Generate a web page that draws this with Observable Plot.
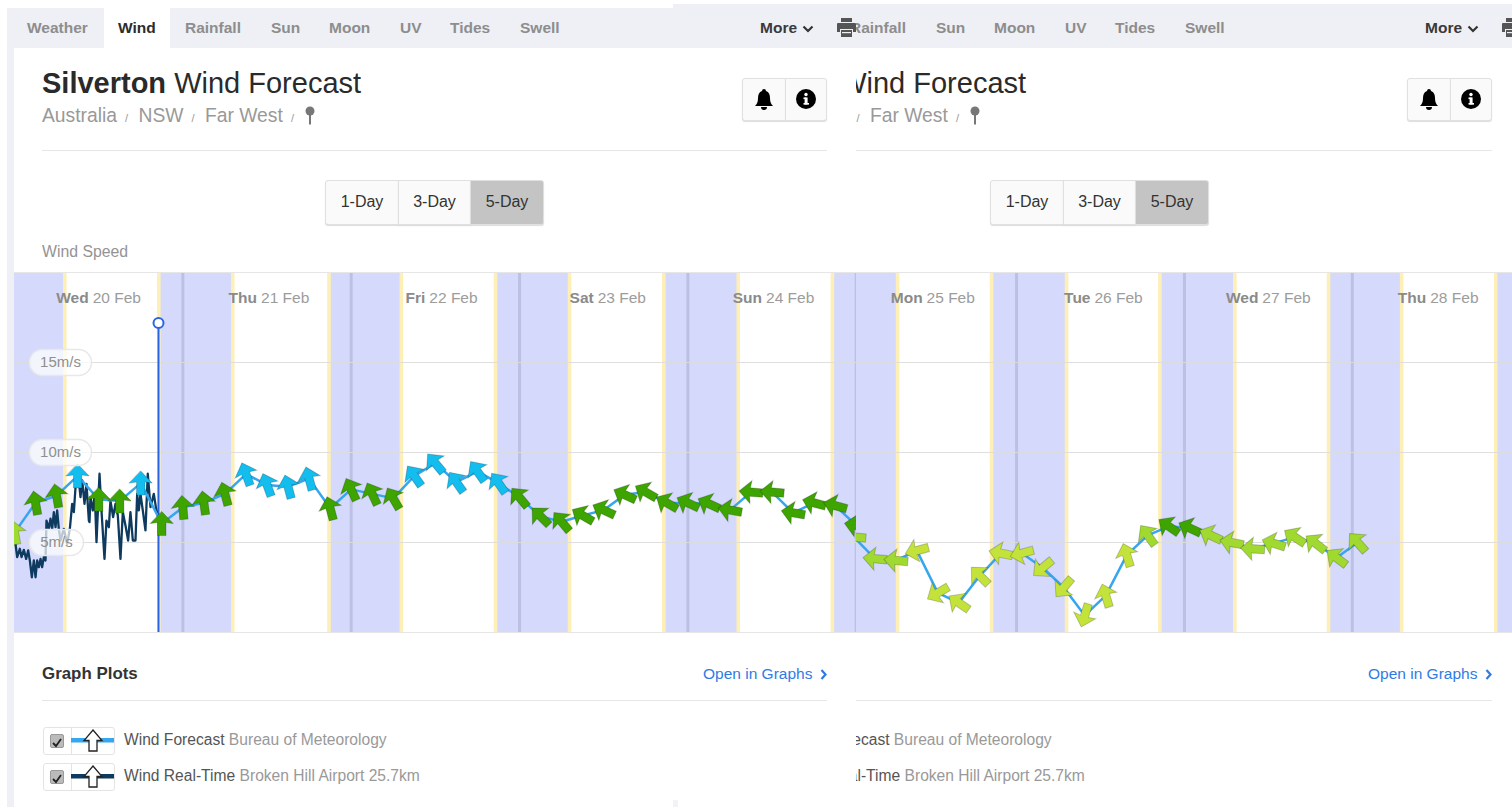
<!DOCTYPE html>
<html>
<head>
<meta charset="utf-8">
<script src="https://cdn.jsdelivr.net/npm/d3@7"></script>
<script src="https://cdn.jsdelivr.net/npm/@observablehq/plot@0.6"></script>
<style>
html,body{margin:0;padding:0;background:#fff;overflow:hidden;width:1512px;height:807px;font-family:"Liberation Sans",Arial,sans-serif}
.abs{position:absolute}
.tab{position:absolute;top:19px;font:700 15.5px/18px "Liberation Sans",sans-serif;color:#8d8d8d;white-space:nowrap}
.btn{position:absolute;box-sizing:border-box;background:#fafafa;border:1px solid #e0e0e0;box-shadow:0 1px 1px #ddd;font:16px/42px "Liberation Sans",sans-serif;color:#333;text-align:center;white-space:nowrap}
.rule{position:absolute;height:1px;background:#e6e6e6}
.chart{position:absolute;top:271px;height:362px;overflow:hidden}
.chart svg{display:block;background:transparent}
.panel{position:absolute;top:0;height:807px;overflow:hidden}
.leg{position:absolute;left:124px;font:15.6px/18px "Liberation Sans",sans-serif;color:#999;white-space:nowrap}
.leg b{font-weight:400;color:#555}
.sl{font-size:11px;margin:0 5px}
</style>
</head>
<body>
<div id="page"></div>
<script>
// ---------- data (hours counted from Wed 20 Feb 00:00) ----------
const dayNames  = ["Wed","Thu","Fri","Sat","Sun","Mon","Tue","Wed","Thu"];
const dayDates  = ["20 Feb","21 Feb","22 Feb","23 Feb","24 Feb","25 Feb","26 Feb","27 Feb","28 Feb"];
const dayNoons  = [12,36,60,84,108,132,156,180,204];
const midnights = [24,48,72,96,120,144,168,192];
const dawns = [7.17,31.12,55.15,79.13,103.18,127,151.15,175.2,199.05];
const dusks = [20.57,44.84,68.58,92.57,116.6,140.43,164.5,188.6,212.5];
const nightStarts = [-2,20.57,44.84,68.58,92.57,116.6,140.43,164.5,188.6,212.5];
const nightEnds   = [7.17,31.12,55.15,79.13,103.18,127,151.15,175.2,199.05,222];
const speedTicks = [5,10,15];
const cursorHour = 20.53, cursorTop = 17.2;

const leftHours = [0,3,6,9,12,15,18,21,24,27,30,33,36,39,42,45,48,51,54,57,60,63,66,69,72,75,78,81,84,87,90,93,96,99,102,105,108,111,114,117,120];
const leftSpeed = [5.55,7.2,7.6,8.7,7.4,7.3,8.3,6.05,6.95,7.2,7.7,8.8,8.2,8.1,8.55,6.9,7.95,7.7,7.45,8.7,9.4,8.35,8.95,8.3,7.5,6.45,6.15,6.5,6.8,7.65,7.8,7.2,7.2,7.15,6.8,7.8,7.8,6.65,7.2,7.05,5.95];
const leftRotate = [-10,-10,-10,0,0,0,0,0,-5,-8,-15,-20,-20,-15,-15,-15,-25,-25,-30,-35,-40,-35,-35,-35,-40,-45,-40,-60,-65,-65,-60,-60,-65,-65,-80,-85,-85,-80,-75,-75,-80];
const leftTier = ["light","fresh","fresh","strong","fresh","fresh","strong","fresh","fresh","fresh","fresh","strong","strong","strong","strong","fresh","fresh","fresh","fresh","strong","strong","strong","strong","strong","fresh","fresh","fresh","fresh","fresh","fresh","fresh","fresh","fresh","fresh","fresh","fresh","fresh","fresh","fresh","fresh","fresh"];

const rightHours = [120.75,123.75,126.75,129.75,132.75,135.75,138.75,141.75,144.75,147.75,150.75,153.75,156.75,159.75,162.75,165.75,168.75,171.75,174.75,177.75,180.75,183.75,186.75,189.75,192.75];
const rightSpeed = [5.3,4.1,4.0,4.55,2.2,1.65,3.15,4.4,4.4,3.6,2.5,0.95,2.05,4.3,5.4,5.9,5.8,5.4,5.0,4.65,4.95,5.3,4.95,4.15,5.0];
const rightRotate = [-85,-85,-85,-105,-120,-55,-45,-79,-105,-130,-140,-163,-17,-17,-36,-55,-65,-65,-79,-86,-73,-57,-52,-53,-42];
const rightTier = ["light","light","light","soft","soft","soft","soft","soft","soft","soft","soft","soft","soft","soft","light","fresh","fresh","light","light","light","light","light","light","light","light"];

const realHours = [0.14,0.38,0.76,1.0,1.33,1.66,1.95,2.19,2.47,2.76,3.0,3.23,3.47,3.71,3.94,4.18,4.42,4.56,4.89,5.13,5.37,5.61,5.85,6.08,6.32,6.56,7.03,7.51,7.89,8.22,8.46,8.7,9.17,9.41,9.65,9.98,10.26,10.6,10.69,10.83,11.17,11.45,11.69,12.12,12.4,12.83,13.11,13.45,13.68,14.06,14.4,14.73,15.11,15.44,15.82,16.2,16.53,16.87,17.25,17.49,17.72,17.96,18.29,18.67,19.0,19.39,19.86,20.19,20.48];
const realSpeed = [4.93,4.19,4.65,4.19,4.59,4.09,4.56,4.0,3.07,4.0,3.07,4.0,3.63,4.09,3.63,4.19,4.0,6.22,5.76,6.32,5.76,6.69,5.85,6.78,5.76,5.11,5.76,4.93,5.76,7.15,6.69,8.07,8.45,7.52,8.45,7.15,8.26,6.22,6.13,7.52,6.78,7.7,5.02,8.82,6.78,4.09,6.22,5.85,7.33,6.41,7.15,6.5,4.09,6.69,5.95,5.11,6.69,5.11,5.11,7.7,6.78,7.7,6.78,5.67,8.82,6.96,7.7,6.87,6.41];

const tierNames  = ["strong","fresh","light","soft"];
const tierColors = ["#13bdee","#3ea400","#a0d92f","#c3e33b"];

// ---------- helpers ----------
const t0 = Date.UTC(2019,1,20);
const at = h => new Date(t0 + h*3600e3);

const arrowShape = {
  draw(c, l) {
    c.moveTo(0,-l);
    c.lineTo(11.5,-l+12);
    c.lineTo(4.2,-l+11);
    c.lineTo(4.2,0);
    c.lineTo(-4.2,0);
    c.lineTo(-4.2,-l+11);
    c.lineTo(-11.5,-l+12);
    c.closePath();
  }
};
const pill = w => ({
  draw(c) {
    const h=13, r=13, a=w/2;
    c.moveTo(-a+r,-h);
    c.lineTo(a-r,-h);
    c.arc(a-r,0,r,-Math.PI/2,Math.PI/2);
    c.lineTo(-a+r,h);
    c.arc(-a+r,0,r,Math.PI/2,Math.PI*1.5);
    c.closePath();
  }
});

function panelChart(left, width, hourStart, hourEnd, hours, speeds, rots, tiers, withLeftStuff) {
  const fc = hours.map((h,i)=>({t:at(h),s:speeds[i],r:rots[i],k:tiers[i]}));
  const nights = nightStarts.map((s,i)=>({a:at(s),b:at(nightEnds[i])}));
  const days = dayNoons.map((h,i)=>({t:at(h),n:dayNames[i],d:dayDates[i]}));
  const real = realHours.map((h,i)=>({t:at(h),s:realSpeed[i]}));
  const marks = [
    Plot.rect(nights,{x1:"a",x2:"b",fill:"#d5d9fb"}),
    Plot.ruleX(midnights.map(at),{stroke:"#bcc0e2",strokeWidth:3}),
    Plot.ruleX(dawns.concat(dusks).map(at),{stroke:"#fdefb6",strokeWidth:3.6}),
    Plot.ruleY(speedTicks,{stroke:"#dcdcdc",strokeOpacity:0.9}),
    Plot.ruleY([0,20],{stroke:"#e6e6e6"})
  ];
  if (withLeftStuff) {
    marks.push(Plot.ruleX([at(cursorHour)],{y1:0,y2:cursorTop,stroke:"#2b64e3",strokeWidth:2}));
    marks.push(Plot.line(real,{x:"t",y:"s",stroke:"#0d3a5e",strokeWidth:2.3,curve:"linear"}));
  }
  marks.push(Plot.line(fc,{x:"t",y:"s",stroke:"#36a6ee",strokeWidth:2.5,curve:"linear"}));
  marks.push(Plot.vector(fc,{x:"t",y:"s",rotate:"r",length:24,anchor:"middle",shape:arrowShape,fill:"k",stroke:"#000",strokeOpacity:0.2,strokeWidth:1,strokeLinejoin:"miter"}));
  if (withLeftStuff) {
    const big = speedTicks.filter(d=>d>=10), small = speedTicks.filter(d=>d<10);
    marks.push(Plot.dot([at(cursorHour)],{x:d=>d,y:()=>cursorTop,r:5,fill:"#fff",stroke:"#2b64e3",strokeWidth:2}));
    marks.push(Plot.dot(big,{y:d=>d,frameAnchor:"left",dx:46,symbol:pill(62),r:5,fill:"#fff",fillOpacity:0.72,stroke:"#e8e8e8"}));
    marks.push(Plot.dot(small,{y:d=>d,frameAnchor:"left",dx:42,symbol:pill(54),r:5,fill:"#fff",fillOpacity:0.72,stroke:"#e8e8e8"}));
    marks.push(Plot.text(big,{y:d=>d,frameAnchor:"left",textAnchor:"middle",dx:46,text:d=>d+"m/s",fill:"#8f8f8f",fontSize:15,fontFamily:"Liberation Sans"}));
    marks.push(Plot.text(small,{y:d=>d,frameAnchor:"left",textAnchor:"middle",dx:42,text:d=>d+"m/s",fill:"#8f8f8f",fontSize:15,fontFamily:"Liberation Sans"}));
  }
  const inDomain = days.filter(d=>d.t>=at(hourStart) && d.t<=at(hourEnd));
  marks.push(Plot.text(inDomain,{x:"t",text:"n",frameAnchor:"top",dy:19,dx:-10,textAnchor:"end",fill:"#8a8a8a",fontWeight:700,fontSize:15.5,fontFamily:"Liberation Sans"}));
  marks.push(Plot.text(inDomain,{x:"t",text:"d",frameAnchor:"top",dy:19,dx:-6,textAnchor:"start",fill:"#9c9c9c",fontSize:15.5,fontFamily:"Liberation Sans"}));
  const svg = Plot.plot({
    width, height:362, marginTop:1, marginBottom:1, marginLeft:0, marginRight:0,
    style:{background:"transparent",overflow:"hidden"},
    x:{type:"utc",domain:[at(hourStart),at(hourEnd)],axis:null},
    y:{domain:[0,20],axis:null},
    color:{type:"ordinal",domain:tierNames,range:tierColors},
    marks
  });
  const div = document.createElement("div");
  div.className="chart";
  div.style.left=left+"px"; div.style.width=width+"px";
  div.appendChild(svg);
  return div;
}

const printer = x => `<svg class="abs" style="left:${x}px;top:18px" width="19" height="20" viewBox="0 0 19 20"><path fill="#555" d="M4 0h11v4H4zM1 5h17a1 1 0 0 1 1 1v8h-3v-3H3v3H0V6a1 1 0 0 1 1-1zM4 12h11v7H4z"/><rect x="5" y="14" width="9" height="1.2" fill="#eff0f5"/></svg>`;
const arrowIcon = (x,y,color) => `<svg class="abs" style="left:${x}px;top:${y}px" width="44" height="28" viewBox="0 0 44 28"><rect x="0" y="11" width="43" height="4.5" fill="${color}"/><path d="M22 3l9 10.5h-5v10.5h-8V13.5h-5z" fill="#fff" stroke="#222" stroke-width="1.3"/></svg>`;
const check = (x,y) => `<div class="abs" style="left:${x}px;top:${y}px;width:14px;height:14px;background:#bbb;border:1px solid #999;border-radius:2px;box-sizing:border-box"><svg width="12" height="12" viewBox="0 0 12 12"><path d="M2 6l3 3 5-7" fill="none" stroke="#222" stroke-width="1.8"/></svg></div>`;

// isRight: the second screenshot of the stitched page starts part-way across, so what it hides is not written at all
function content(isRight) {
  const tabs=[["Weather",27],["Wind",118],["Rainfall",185],["Sun",271],["Moon",329],["UV",400],["Tides",450],["Swell",520]]
    .filter(([t])=>!isRight || !["Weather","Wind"].includes(t));
  return `
  ${isRight ? "" : `<div class="abs" style="left:7px;top:8px;width:828px;height:40px;background:#eff0f5"></div>
  <div class="abs" style="left:104px;top:8px;width:66px;height:40px;background:#fff"></div>`}
  ${tabs.map(([t,x])=>`<div class="tab" style="left:${x}px;${t==="Wind"?"color:#2c2c2c":""}">${t}</div>`).join("")}
  <div class="tab" style="left:760px;color:#3a3a3a">More</div>
  <svg class="abs" style="left:802px;top:25px" width="12" height="8" viewBox="0 0 12 8"><path d="M1.5 1.5L6 6l4.5-4.5" fill="none" stroke="#333" stroke-width="2.2"/></svg>
  ${printer(837)}
  <div class="abs" style="left:42px;top:66px;font:29px/34px 'Liberation Sans',sans-serif;color:#2a2a2a;white-space:nowrap"><b>Silverton</b> Wind Forecast</div>
  <div class="abs" style="left:42px;top:104px;font:19.3px/24px 'Liberation Sans',sans-serif;color:#999;white-space:nowrap">Australia<span class="sl"> /</span> NSW<span class="sl"> /</span> Far West<span class="sl"> /</span></div>
  <svg class="abs" style="left:304px;top:106px" width="12" height="19" viewBox="0 0 12 19"><circle cx="6" cy="5" r="4.5" fill="#777"/><rect x="5" y="8" width="2" height="10.5" fill="#777"/></svg>
  <div class="rule" style="left:42px;top:150px;width:785px"></div>
  <div class="btn" style="left:742px;top:78px;width:44px;height:43px;border-radius:3px 0 0 3px"></div>
  <div class="btn" style="left:785px;top:78px;width:42px;height:43px;border-radius:0 3px 3px 0"></div>
  <svg class="abs" style="left:754px;top:89px" width="20" height="21" viewBox="0 0 20 21"><path fill="#000" d="M10 0a2 2 0 0 1 2 2c3 1 4 4 4 7 0 4 1 6 3 8H1c2-2 3-4 3-8 0-3 1-6 4-7a2 2 0 0 1 2-2zM7 18h6a3 3 0 0 1-6 0z"/></svg>
  <svg class="abs" style="left:796px;top:89px" width="20" height="20" viewBox="0 0 20 20"><circle cx="10" cy="10" r="10" fill="#000"/><rect x="8.6" y="8.5" width="3" height="7" fill="#fff"/><rect x="7.5" y="8.5" width="3" height="1.6" fill="#fff"/><rect x="7.5" y="14" width="5.5" height="1.6" fill="#fff"/><circle cx="10" cy="5.5" r="1.7" fill="#fff"/></svg>
  <div class="btn" style="left:325px;top:180px;width:74px;height:45px;border-radius:3px 0 0 3px">1-Day</div>
  <div class="btn" style="left:398px;top:180px;width:73px;height:45px">3-Day</div>
  <div class="btn" style="left:470px;top:180px;width:74px;height:45px;border-radius:0 3px 3px 0;background:#c4c4c4">5-Day</div>
  ${isRight ? "" : `<div class="abs" style="left:42px;top:243px;font:15.8px/18px 'Liberation Sans',sans-serif;color:#949494">Wind Speed</div>
  <div class="abs" style="left:42px;top:664px;font:700 16.9px/20px 'Liberation Sans',sans-serif;color:#333">Graph Plots</div>`}
  <div class="abs" style="left:703px;top:665px;font:15.5px/18px 'Liberation Sans',sans-serif;color:#2f7be5;white-space:nowrap">Open in Graphs</div>
  <svg class="abs" style="left:820px;top:669px" width="8" height="11" viewBox="0 0 8 11"><path d="M1.5 1l4 4.5-4 4.5" fill="none" stroke="#2f7be5" stroke-width="2.2"/></svg>
  <div class="rule" style="left:42px;top:700px;width:785px"></div>
  ${isRight ? "" : `<div class="abs" style="left:43px;top:727px;width:72px;height:28px;border:1px solid #e4e4e4;border-radius:3px;box-sizing:border-box"></div>
  <div class="abs" style="left:43px;top:763px;width:72px;height:28px;border:1px solid #e4e4e4;border-radius:3px;box-sizing:border-box"></div>
  <div class="abs" style="left:71px;top:727px;width:1px;height:28px;background:#e4e4e4"></div>
  <div class="abs" style="left:71px;top:763px;width:1px;height:28px;background:#e4e4e4"></div>
  ${check(50,734)}${check(50,770)}
  ${arrowIcon(71,727,"#36a6ee")}${arrowIcon(71,763,"#0d3a5e")}`}
  <div class="leg" style="top:731px"><b>Wind Forecast</b> Bureau of Meteorology</div>
  <div class="leg" style="top:767px"><b>Wind Real-Time</b> Broken Hill Airport 25.7km</div>`;
}

const page = document.getElementById("page");
page.innerHTML = `
  <div class="abs" style="left:7px;top:48px;width:7px;height:759px;background:#eff0f5"></div>
  <div class="abs" style="left:673px;top:4px;width:839px;height:44px;background:#eff0f5"></div>
  <div class="abs" style="left:673px;top:800px;width:5px;height:7px;background:#f2f3f7"></div>
  <div class="panel" id="pl" style="left:0;width:856px">${content(false)}</div>
  <div class="panel" id="pr" style="left:856px;width:656px"><div class="abs" style="left:-191px;top:0;width:1000px;height:807px">${content(true)}</div></div>
`;
page.appendChild(panelChart(14,842,0,120.04,leftHours,leftSpeed,leftRotate,leftTier,true));
page.appendChild(panelChart(856,656,121.12,214.9,rightHours,rightSpeed,rightRotate,rightTier,false));
</script>
</body>
</html>
